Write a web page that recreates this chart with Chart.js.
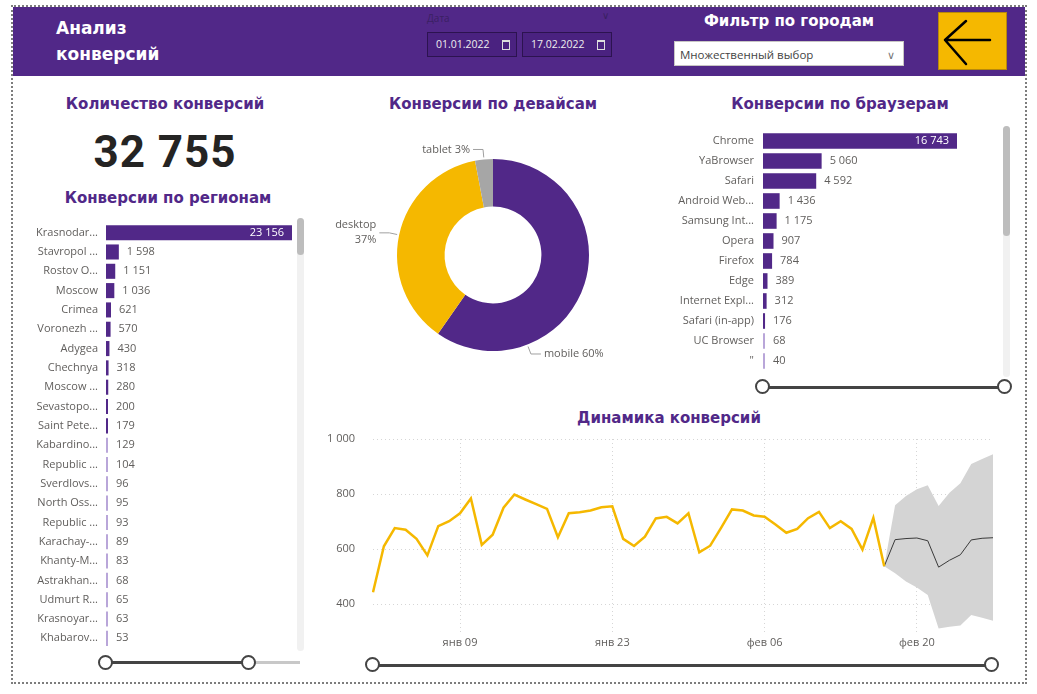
<!DOCTYPE html>
<html lang="ru">
<head>
<meta charset="utf-8">
<title>Анализ конверсий</title>
<script src="https://cdn.jsdelivr.net/npm/chart.js@4.4.1/dist/chart.umd.min.js"></script>
<style>
  html, body { margin: 0; padding: 0; background: #fff; }
  body { width: 1037px; height: 694px; position: relative; overflow: hidden; font-family: "Segoe UI", "Open Sans", sans-serif; }
  .abs { position: absolute; }
  .frame { left: 11px; top: 5px; width: 1016px; height: 679px; border: 2px dotted #7d7d7d; box-sizing: border-box; }
  .band { left: 13px; top: 7px; width: 1012px; height: 69px; background: #512888; }
  .head-title { left: 56px; top: 15px; color: #fff; font: bold 17px "DejaVu Sans", sans-serif; line-height: 26px; }
  .date-cap { left: 427px; top: 11px; color: #3a2062; font-size: 10px; }
  .date-chev { left: 602px; top: 8px; color: #3a2062; font-size: 10px; }
  .date-box { top: 32px; width: 90px; height: 25px; border: 1px solid #2c1350; box-sizing: border-box; background: #4a2280; color: #eee; font-size: 10.5px; line-height: 23px; padding-left: 8px; }
  .cal { position: absolute; right: 6px; top: 7px; width: 6px; height: 7px; border: 1px solid #ddd; border-top-width: 2px; }
  .filter-cap { left: 689px; width: 200px; top: 12px; text-align: center; color: #fff; font: bold 15px "DejaVu Sans", sans-serif; }
  .drop { left: 674px; top: 41px; width: 230px; height: 25px; background: #fff; border: 1px solid #c8c6c4; box-sizing: border-box; color: #444; font-size: 11.5px; line-height: 25px; padding-left: 5px; }
  .back { left: 938px; top: 12px; width: 69px; height: 58px; background: #F5B800; border: 1px solid #b8890a; box-sizing: border-box; }
  .ttl { width: 320px; text-align: center; color: #512888; font: bold 15px "DejaVu Sans", sans-serif; line-height: 20px; }
  .kpi { left: 40px; top: 124px; width: 250px; text-align: center; color: #252423; font: bold 44px Roboto, sans-serif; line-height: 56px; letter-spacing: 1px; }
  .track { background: #f1f1f1; border-radius: 4px; }
  .thumb { background: #bdbdbd; border-radius: 4px; }
  .rail { height: 3px; }
  .knob { width: 11px; height: 11px; border: 2px solid #444; border-radius: 50%; background: #fff; }
  canvas { position: absolute; }
</style>
</head>
<body>
<div class="abs frame"></div>
<div class="abs band"></div>
<div class="abs head-title">Анализ<br>конверсий</div>
<div class="abs date-cap">Дата</div>
<div class="abs date-chev">&#8744;</div>
<div class="abs date-box" style="left:427px">01.01.2022<span class="cal"></span></div>
<div class="abs date-box" style="left:522px">17.02.2022<span class="cal"></span></div>
<div class="abs filter-cap">Фильтр по городам</div>
<div class="abs drop">Множественный выбор<span style="position:absolute;right:8px;top:0;color:#777;font-size:11px">&#8744;</span></div>
<div class="abs back">
  <svg width="67" height="56" viewBox="0 0 67 56">
    <path d="M6 27 L51 27 M27 8 L6 27 L27 51" fill="none" stroke="#000" stroke-width="2.5" stroke-linecap="round" stroke-linejoin="round"/>
  </svg>
</div>

<div class="abs ttl" style="left:5px;top:94px">Количество конверсий</div>
<div class="abs kpi" id="kpi"></div>
<div class="abs ttl" style="left:8px;top:188px">Конверсии по регионам</div>
<div class="abs ttl" style="left:333px;top:94px">Конверсии по девайсам</div>
<div class="abs ttl" style="left:680px;top:94px">Конверсии по браузерам</div>
<div class="abs ttl" style="left:509px;top:408px">Динамика конверсий</div>

<canvas id="regionChart" width="275" height="425" style="left:22px;top:223px"></canvas>
<canvas id="deviceChart" width="320" height="230" style="left:333px;top:140px"></canvas>
<canvas id="browserChart" width="302" height="240" style="left:660px;top:131px"></canvas>
<canvas id="trendChart" width="700" height="235" style="left:320px;top:425px"></canvas>

<!-- scrollbars -->
<div class="abs track" style="left:297px;top:218px;width:7px;height:433px"></div>
<div class="abs thumb" style="left:297px;top:218px;width:7px;height:37px"></div>
<div class="abs track" style="left:1003px;top:126px;width:7px;height:251px"></div>
<div class="abs thumb" style="left:1003px;top:126px;width:7px;height:110px"></div>

<!-- range sliders -->
<div class="abs rail" style="left:106px;top:661px;width:143px;background:#444"></div>
<div class="abs rail" style="left:249px;top:661px;width:51px;background:#c8c8c8"></div>
<div class="abs knob" style="left:98px;top:655px"></div>
<div class="abs knob" style="left:241px;top:655px"></div>

<div class="abs rail" style="left:763px;top:386px;width:242px;background:#444"></div>
<div class="abs knob" style="left:755px;top:379px"></div>
<div class="abs knob" style="left:997px;top:379px"></div>

<div class="abs rail" style="left:373px;top:664px;width:619px;background:#444"></div>
<div class="abs knob" style="left:365px;top:657px"></div>
<div class="abs knob" style="left:984px;top:657px"></div>

<script>
const totalConversions = 32755;

const regionLabels = ['Krasnodar...', 'Stavropol ...', 'Rostov O...', 'Moscow', 'Crimea', 'Voronezh ...',
  'Adygea', 'Chechnya', 'Moscow ...', 'Sevastopo...', 'Saint Pete...', 'Kabardino...', 'Republic ...',
  'Sverdlovs...', 'North Oss...', 'Republic ...', 'Karachay-...', 'Khanty-M...', 'Astrakhan...',
  'Udmurt R...', 'Krasnoyar...', 'Khabarov...'];
const regionValues = [23156, 1598, 1151, 1036, 621, 570, 430, 318, 280, 200, 179, 129, 104,
  96, 95, 93, 89, 83, 68, 65, 63, 53];

const browserLabels = ['Chrome', 'YaBrowser', 'Safari', 'Android Web...', 'Samsung Int...', 'Opera',
  'Firefox', 'Edge', 'Internet Expl...', 'Safari (in-app)', 'UC Browser', '"'];
const browserValues = [16743, 5060, 4592, 1436, 1175, 907, 784, 389, 312, 176, 68, 40];

const deviceLabels = ['mobile', 'desktop', 'tablet'];
const deviceShares = [59.7, 37.3, 3.0];
const deviceColors = ['#512888', '#F5B800', '#A6A6A6'];
// where along each slice the leader line starts (fraction of the arc)
const deviceLabelAnchor = [0.74, 0.5, 0.5];

const dayLabels = [
  'янв 01', 'янв 02', 'янв 03', 'янв 04', 'янв 05', 'янв 06', 'янв 07', 'янв 08', 'янв 09', 'янв 10',
  'янв 11', 'янв 12', 'янв 13', 'янв 14', 'янв 15', 'янв 16', 'янв 17', 'янв 18', 'янв 19', 'янв 20',
  'янв 21', 'янв 22', 'янв 23', 'янв 24', 'янв 25', 'янв 26', 'янв 27', 'янв 28', 'янв 29', 'янв 30',
  'янв 31', 'фев 01', 'фев 02', 'фев 03', 'фев 04', 'фев 05', 'фев 06', 'фев 07', 'фев 08', 'фев 09',
  'фев 10', 'фев 11', 'фев 12', 'фев 13', 'фев 14', 'фев 15', 'фев 16', 'фев 17', 'фев 18', 'фев 19',
  'фев 20', 'фев 21', 'фев 22', 'фев 23', 'фев 24', 'фев 25', 'фев 26', 'фев 27'];
const xTickLabels = ['янв 09', 'янв 23', 'фев 06', 'фев 20'];
const yTickValues = [400, 600, 800, 1000];

// 01.01 - 17.02
const actualValues = [443, 610, 676, 670, 637, 577, 683, 701, 730, 784, 615, 652, 750, 798, 780, 763,
  746, 643, 730, 734, 740, 752, 755, 637, 611, 645, 711, 717, 693, 730, 588,
  612, 677, 744, 740, 722, 717, 689, 659, 673, 712, 735, 676, 701, 673, 598, 713, 537];
// 17.02 - 27.02
const forecastValues = [537, 634, 638, 640, 630, 534, 559, 579, 633, 639, 641];
const forecastUpper  = [537, 759, 793, 817, 832, 756, 805, 839, 909, 927, 945];
const forecastLower  = [537, 512, 482, 460, 433, 311, 317, 322, 360, 350, 339];

const fmt = v => String(v).replace(/\B(?=(\d{3})+(?!\d))/g, ' ');
const labelFont = '11px "Segoe UI", "Open Sans", sans-serif';
const grey = '#605E5C';
const purple = '#512888';

document.getElementById('kpi').textContent = fmt(totalConversions);

Chart.defaults.font.family = '"Segoe UI", "Open Sans", sans-serif';
Chart.defaults.font.size = 11;
Chart.defaults.color = grey;

// value labels: outside the bar when there is room, otherwise inside the end
const barValueLabels = {
  id: 'barValueLabels',
  afterDatasetsDraw(chart) {
    const ctx = chart.ctx;
    const values = chart.data.datasets[0].data;
    ctx.save();
    ctx.font = labelFont;
    ctx.textBaseline = 'middle';
    chart.getDatasetMeta(0).data.forEach((bar, i) => {
      const txt = fmt(values[i]);
      const w = ctx.measureText(txt).width;
      if (bar.x + 8 + w <= chart.chartArea.right) {
        ctx.fillStyle = grey;
        ctx.textAlign = 'left';
        ctx.fillText(txt, bar.x + 8, bar.y);
      } else {
        ctx.fillStyle = '#fff';
        ctx.textAlign = 'right';
        ctx.fillText(txt, bar.x - 8, bar.y);
      }
    });
    ctx.restore();
  }
};

function barChart(id, labels, values, axisWidth, tickPad, padRight) {
  return new Chart(document.getElementById(id), {
    type: 'bar',
    data: {
      labels: labels,
      datasets: [{
        data: values,
        backgroundColor: ctx => (ctx.raw < 150 ? '#b9a6d9' : purple),
        categoryPercentage: 1,
        barPercentage: 0.78,
        minBarLength: 2
      }]
    },
    options: {
      indexAxis: 'y',
      responsive: false,
      animation: false,
      devicePixelRatio: 1,
      layout: { padding: { left: 0, right: padRight, top: 0, bottom: 0 } },
      plugins: { legend: { display: false }, tooltip: { enabled: false } },
      scales: {
        x: { display: false, min: 0, max: Math.max(...values) },
        y: {
          grid: { display: false, drawTicks: false },
          border: { display: false },
          ticks: { padding: tickPad, color: grey, font: { size: 11 }, autoSkip: false },
          afterFit: s => { s.width = axisWidth; s.paddingTop = 0; s.paddingBottom = 0; }
        }
      }
    },
    plugins: [barValueLabels]
  });
}

barChart('regionChart', regionLabels, regionValues, 84, 8, 5);
barChart('browserChart', browserLabels, browserValues, 103, 9, 5);

const donutLabels = {
  id: 'donutLabels',
  afterDatasetsDraw(chart) {
    const ctx = chart.ctx;
    const values = chart.data.datasets[0].data;
    const total = values.reduce((a, b) => a + b, 0);
    ctx.save();
    ctx.font = labelFont;
    ctx.textBaseline = 'middle';
    ctx.strokeStyle = '#a0a0a0';
    ctx.lineWidth = 1;
    chart.getDatasetMeta(0).data.forEach((arc, i) => {
      const a = arc.startAngle + (arc.endAngle - arc.startAngle) * deviceLabelAnchor[i];
      const r = arc.outerRadius;
      const x0 = arc.x + Math.cos(a) * (r + 2), y0 = arc.y + Math.sin(a) * (r + 2);
      const x1 = arc.x + Math.cos(a) * (r + 10), y1 = arc.y + Math.sin(a) * (r + 10);
      const dir = Math.cos(a) >= 0 ? 1 : -1;
      const x2 = x1 + dir * 10;
      ctx.beginPath();
      ctx.moveTo(x0, y0); ctx.lineTo(x1, y1); ctx.lineTo(x2, y1);
      ctx.stroke();
      const pct = Math.round(values[i] / total * 100) + '%';
      const one = chart.data.labels[i] + ' ' + pct;
      const tx = x2 + dir * 3;
      ctx.fillStyle = grey;
      ctx.textAlign = dir > 0 ? 'left' : 'right';
      const w = ctx.measureText(one).width;
      const fits = dir > 0 ? tx + w < chart.width : tx - w > 0;
      if (fits) {
        ctx.fillText(one, tx, y1);
      } else {
        ctx.fillText(chart.data.labels[i], tx, y1 - 7.5);
        ctx.fillText(pct, tx, y1 + 7.5);
      }
    });
    ctx.restore();
  }
};

new Chart(document.getElementById('deviceChart'), {
  type: 'doughnut',
  data: {
    labels: deviceLabels,
    datasets: [{ data: deviceShares, backgroundColor: deviceColors, borderWidth: 0, radius: 96, cutout: 58 }]
  },
  options: {
    responsive: false,
    animation: false,
    devicePixelRatio: 1,
    radius: 96,
    cutout: 58,
    plugins: { legend: { display: false }, tooltip: { enabled: false } }
  },
  plugins: [donutLabels]
});

const lead = Array(actualValues.length - 1).fill(null);
const tail = Array(forecastValues.length - 1).fill(null);
const dotted = { color: '#d6d6d6', lineWidth: 1, drawTicks: false };

new Chart(document.getElementById('trendChart'), {
  type: 'line',
  data: {
    labels: dayLabels,
    datasets: [
      { data: actualValues.concat(tail), borderColor: '#F5B800', borderWidth: 2.5, pointRadius: 0, fill: false },
      { data: lead.concat(forecastValues), borderColor: '#3a3a3a', borderWidth: 1, pointRadius: 0, fill: false },
      { data: lead.concat(forecastUpper), borderColor: 'rgba(0,0,0,0)', pointRadius: 0, fill: false },
      { data: lead.concat(forecastLower), borderColor: 'rgba(0,0,0,0)', pointRadius: 0, fill: '-1', backgroundColor: '#d4d4d4' }
    ]
  },
  options: {
    responsive: false,
    animation: false,
    devicePixelRatio: 1,
    layout: { padding: { left: 0, right: 27, top: 14, bottom: 0 } },
    plugins: { legend: { display: false }, tooltip: { enabled: false } },
    scales: {
      x: {
        offset: false,
        grid: dotted,
        border: { display: false, dash: [1, 3] },
        ticks: { autoSkip: false, maxRotation: 0, padding: 5, color: grey },
        afterBuildTicks: s => { s.ticks = s.ticks.filter(t => xTickLabels.includes(dayLabels[t.value])); },
        afterFit: s => { s.height = 28.5; s.paddingLeft = 0; s.paddingRight = 0; }
      },
      y: {
        min: 300,
        max: 1000,
        grid: dotted,
        border: { display: false, dash: [1, 3] },
        ticks: { padding: 18, color: grey, callback: v => fmt(v) },
        afterBuildTicks: s => { s.ticks = yTickValues.map(v => ({ value: v })); },
        afterFit: s => { s.width = 53; s.paddingTop = 0; s.paddingBottom = 0; }
      }
    }
  }
});
</script>
</body>
</html>
